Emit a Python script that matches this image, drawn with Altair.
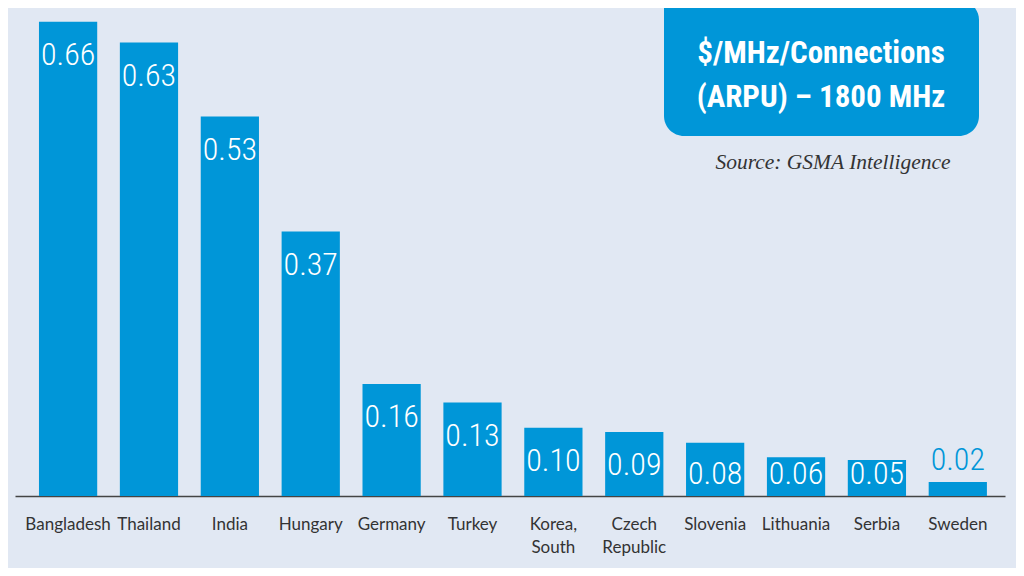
import altair as alt
import pandas as pd

countries = ["Bangladesh", "Thailand", "India", "Hungary", "Germany", "Turkey",
             "Korea,|South", "Czech|Republic", "Slovenia", "Lithuania", "Serbia", "Sweden"]
values = [0.660, 0.631, 0.528, 0.368, 0.156, 0.130, 0.095, 0.089, 0.074, 0.054, 0.050, 0.0195]
value_labels = ["0.66", "0.63", "0.53", "0.37", "0.16", "0.13", "0.10", "0.09", "0.08", "0.06", "0.05", "0.02"]
title_lines = ["$/MHz/Connections", "(ARPU) \u2013 1800 MHz"]
source_text = "Source: GSMA Intelligence"

BLUE = "#0096d8"
BG = "#e1e8f3"
COND = "Roboto Condensed, Liberation Sans Narrow, Roboto, sans-serif"

df = pd.DataFrame({"country": countries, "value": values, "label": value_labels})

xenc = alt.X("country:N", sort=countries,
             scale=alt.Scale(paddingInner=0.28, paddingOuter=0.26, align=0.57),
             axis=alt.Axis(title=None, labelAngle=0, ticks=False, grid=False,
                           domainColor="#444444", domainWidth=1.5,
                           labelFont="Lato", labelFontSize=17, labelColor="#333333",
                           labelPadding=20, labelLineHeight=23, labelBaseline="top",
                           labelExpr="split(datum.label, '|')"))
yscale = alt.Scale(domain=[0, 0.679], nice=False)

base = alt.Chart(df)
bars = base.mark_bar(color=BLUE).encode(
    x=xenc,
    y=alt.Y("value:Q", scale=yscale, axis=None),
)

labels = base.transform_calculate(
    ly="datum.value < 0.04 ? datum.value + 0.031 : max(datum.value - 0.046, 0.03)"
).mark_text(font=COND, fontWeight=300,
            fontSize=32, baseline="middle", align="center").encode(
    x=alt.X("country:N", sort=countries),
    y=alt.Y("ly:Q", scale=yscale, axis=None),
    text="label:N",
    color=alt.condition("datum.value < 0.04", alt.value(BLUE), alt.value("white")),
)

dummy = alt.Chart(pd.DataFrame({"a": [0]}))
box = dummy.mark_rect(color=BLUE, cornerRadiusTopLeft=0, cornerRadiusTopRight=20,
                      cornerRadiusBottomLeft=20, cornerRadiusBottomRight=20).encode(
    x=alt.value(649), x2=alt.value(964), y=alt.value(-8), y2=alt.value(128))

title_layers = []
for i, line in enumerate(title_lines):
    title_layers.append(
        dummy.mark_text(text=line, color="white", fontWeight="bold", fontSize=31,
                        font=COND,
                        align="center", baseline="alphabetic").encode(
            x=alt.value(806), y=alt.value(55 + 44 * i)))

source = dummy.mark_text(text=source_text, color="#333333", fontStyle="italic",
                         fontSize=21.5, font="Liberation Serif", align="center",
                         baseline="alphabetic").encode(x=alt.value(818), y=alt.value(161))

chart = alt.layer(bars, labels, box, *title_layers, source).properties(
    width=990, height=488,
    autosize=alt.AutoSizeParams(type="none"),
    padding={"left": 7, "top": 0, "right": 11, "bottom": 72},
    background=BG,
).configure_view(stroke=None)

chart.save("out.html", embed_options={"renderer": "svg", "actions": False})
